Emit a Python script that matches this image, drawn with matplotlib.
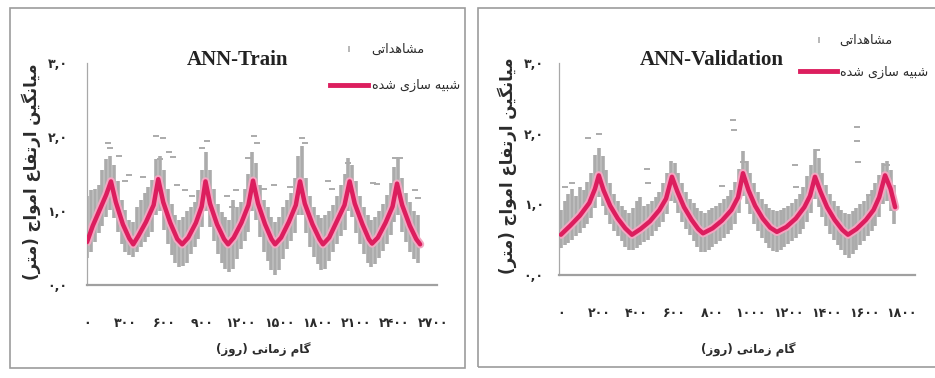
import numpy as np
import matplotlib
matplotlib.use("Agg")
from matplotlib import pyplot as plt
from matplotlib.patches import Rectangle
from matplotlib.lines import Line2D

# ---- data ----
train_line_day = [0, 45, 100, 150, 187, 225, 280, 330, 361, 400, 460, 520, 556, 595, 650, 705, 743, 790,
                  850, 895, 925, 960, 1015, 1070, 1101, 1145, 1205, 1260, 1296, 1335, 1390, 1440, 1468,
                  1515, 1575, 1630, 1663, 1700, 1760, 1815, 1842, 1890, 1950, 2010, 2050, 2090, 2150,
                  2200, 2225, 2270, 2330, 2385, 2420, 2460, 2520, 2570, 2600]
train_line_val = [0.58, 0.80, 1.02, 1.22, 1.40, 1.12, 0.82, 0.63, 0.55, 0.66, 0.85, 1.08, 1.43, 1.12, 0.84,
                  0.62, 0.55, 0.64, 0.84, 1.06, 1.40, 1.10, 0.82, 0.62, 0.55, 0.64, 0.84, 1.08, 1.41, 1.10,
                  0.82, 0.62, 0.55, 0.64, 0.85, 1.08, 1.40, 1.10, 0.82, 0.62, 0.55, 0.64, 0.86, 1.08, 1.40,
                  1.10, 0.82, 0.62, 0.56, 0.64, 0.84, 1.06, 1.37, 1.08, 0.80, 0.62, 0.55]

# observed spread (min / max) every 30 days
train_obs_day = np.arange(0, 2581, 30)
train_obs_low = [0.36, 0.45, 0.58, 0.70, 0.80, 0.92, 1.02, 0.90, 0.72, 0.55,
                 0.45, 0.40, 0.38, 0.45, 0.52, 0.58, 0.65, 0.72, 0.95, 1.00,
                 0.75, 0.55, 0.40, 0.30, 0.25, 0.26, 0.30, 0.42, 0.52, 0.62,
                 0.78, 1.00, 0.78, 0.60, 0.42, 0.30, 0.22, 0.17, 0.22, 0.35,
                 0.48, 0.60, 0.72, 1.00, 0.88, 0.65, 0.45, 0.32, 0.20, 0.14,
                 0.20, 0.35, 0.48, 0.60, 0.70, 0.95, 0.95, 0.70, 0.52, 0.38,
                 0.28, 0.20, 0.22, 0.32, 0.45, 0.55, 0.66, 0.75, 1.00, 0.92,
                 0.70, 0.55, 0.42, 0.30, 0.24, 0.28, 0.36, 0.46, 0.56, 0.68,
                 0.85, 0.95, 0.72, 0.58, 0.45, 0.35, 0.30]
train_obs_high = [1.20, 1.28, 1.30, 1.35, 1.55, 1.70, 1.75, 1.62, 1.40, 1.15,
                  1.02, 0.88, 0.85, 1.05, 1.15, 1.25, 1.32, 1.42, 1.70, 1.75,
                  1.55, 1.30, 1.10, 0.95, 0.88, 0.92, 1.00, 1.05, 1.12, 1.28,
                  1.55, 1.80, 1.55, 1.30, 1.10, 0.98, 0.92, 0.88, 1.15, 1.05,
                  1.12, 1.30, 1.50, 1.80, 1.65, 1.35, 1.15, 1.05, 0.92, 0.85,
                  0.92, 1.05, 1.15, 1.25, 1.45, 1.75, 1.88, 1.45, 1.20, 1.05,
                  0.95, 0.90, 0.95, 1.00, 1.08, 1.20, 1.35, 1.50, 1.72, 1.62,
                  1.40, 1.20, 1.05, 0.95, 0.88, 0.92, 1.00, 1.10, 1.22, 1.38,
                  1.60, 1.70, 1.45, 1.25, 1.12, 1.00, 0.95]
train_out_day = [180, 165, 250, 300, 330, 440, 540, 568, 594, 640, 672, 700, 765, 820, 900, 940, 1090, 1130,
                 1160, 1260, 1300, 1325, 1380, 1460, 1585, 1678, 1700, 1883, 1910, 2040, 2230, 2260, 2405,
                 2440, 2560, 2580]
train_out_val = [1.85, 1.92, 1.75, 1.40, 1.48, 1.46, 2.02, 1.70, 1.98, 1.80, 1.73, 1.35, 1.28, 1.20, 1.85,
                 1.95, 1.20, 1.05, 1.28, 1.72, 2.02, 1.92, 1.30, 1.35, 1.33, 1.98, 1.92, 1.41, 1.30, 1.65,
                 1.38, 1.37, 1.72, 1.72, 1.28, 1.18]

val_line_day = [0, 50, 100, 150, 180, 200, 225, 260, 300, 340, 375, 420, 470, 520, 555, 586, 615, 650, 690,
                725, 750, 800, 850, 900, 935, 961, 990, 1025, 1065, 1105, 1140, 1190, 1240, 1285, 1315,
                1341, 1370, 1405, 1445, 1485, 1515, 1560, 1610, 1650, 1680, 1711, 1740, 1764]
val_line_val = [0.57, 0.70, 0.84, 1.02, 1.22, 1.41, 1.20, 0.98, 0.80, 0.66, 0.57, 0.65, 0.76, 0.92, 1.08,
                1.39, 1.18, 0.96, 0.78, 0.65, 0.59, 0.66, 0.77, 0.92, 1.10, 1.44, 1.20, 0.98, 0.80, 0.67,
                0.61, 0.68, 0.80, 0.96, 1.12, 1.39, 1.18, 0.96, 0.78, 0.64, 0.57, 0.65, 0.78, 0.92, 1.10,
                1.41, 1.22, 0.96]

# observed spread (min / max) every 20 days
val_obs_day = np.arange(0, 1761, 20)
val_obs_low = [0.38, 0.42, 0.45, 0.50, 0.55, 0.60, 0.66, 0.72, 0.80, 0.95,
               1.10, 0.98, 0.85, 0.72, 0.62, 0.55, 0.48, 0.40, 0.36, 0.35,
               0.38, 0.42, 0.46, 0.50, 0.55, 0.62, 0.68, 0.75, 0.86, 1.05,
               1.02, 0.88, 0.75, 0.65, 0.56, 0.48, 0.40, 0.33, 0.32, 0.35,
               0.40, 0.44, 0.48, 0.52, 0.58, 0.64, 0.72, 0.88, 1.12, 1.00,
               0.86, 0.72, 0.62, 0.52, 0.45, 0.38, 0.34, 0.32, 0.35, 0.40,
               0.44, 0.48, 0.52, 0.58, 0.65, 0.75, 0.88, 1.08, 0.96, 0.82,
               0.70, 0.58, 0.50, 0.42, 0.35, 0.28, 0.24, 0.30, 0.36, 0.42,
               0.48, 0.55, 0.62, 0.70, 0.82, 1.00, 1.05, 0.90, 0.72]
val_obs_high = [0.92, 1.05, 1.15, 1.22, 1.12, 1.25, 1.20, 1.32, 1.45, 1.70,
                1.80, 1.68, 1.48, 1.30, 1.15, 1.05, 0.98, 0.92, 0.88, 0.95,
                1.05, 1.10, 0.98, 1.00, 1.05, 1.10, 1.18, 1.30, 1.45, 1.62,
                1.58, 1.45, 1.30, 1.18, 1.08, 1.02, 0.95, 0.90, 0.88, 0.92,
                0.95, 0.98, 1.02, 1.08, 1.12, 1.20, 1.32, 1.50, 1.75, 1.62,
                1.45, 1.30, 1.18, 1.08, 1.00, 0.95, 0.92, 0.90, 0.92, 0.95,
                0.98, 1.02, 1.08, 1.15, 1.25, 1.40, 1.55, 1.78, 1.65, 1.45,
                1.28, 1.15, 1.05, 0.98, 0.92, 0.88, 0.86, 0.90, 0.95, 1.00,
                1.05, 1.12, 1.20, 1.30, 1.42, 1.58, 1.62, 1.48, 1.28]
val_out_day = [21, 60, 143, 199, 454, 460, 850, 909, 912, 960, 1235, 1240, 1352, 1563, 1565, 1568, 1624, 1720]
val_out_val = [1.25, 1.30, 1.94, 2.00, 1.50, 1.30, 1.26, 2.19, 2.05, 1.60, 1.56, 1.25, 1.77, 2.10, 1.90,
               1.60, 1.13, 1.55]

train_xticks = [0, 300, 600, 900, 1200, 1500, 1800, 2100, 2400, 2700]
train_xtick_labels = ['۰', '۳۰۰', '۶۰۰', '۹۰۰', '۱۲۰۰', '۱۵۰۰', '۱۸۰۰', '۲۱۰۰', '۲۴۰۰', '۲۷۰۰']
val_xticks = [0, 200, 400, 600, 800, 1000, 1200, 1400, 1600, 1800]
val_xtick_labels = ['۰', '۲۰۰', '۴۰۰', '۶۰۰', '۸۰۰', '۱۰۰۰', '۱۲۰۰', '۱۴۰۰', '۱۶۰۰', '۱۸۰۰']
yticks = [0, 1, 2, 3]
ytick_labels = ['۰,۰', '۱,۰', '۲,۰', '۳,۰']

obs_label = 'مشاهداتی'
sim_label = 'شبیه سازی شده'
x_title = 'گام زمانی (روز)'
y_title = 'میانگین ارتفاع امواج (متر)'

OBS_GRAY = '#ababab'
SIM_RED = '#dc1e5e'
SIM_HALO = '#f3a7c2'
TEXT = '#2b2b2b'

# ---- minimal persian shaping (matplotlib has no text shaping) ----
FORMS = {
    'ا': ('\uFE8D', '\uFE8E', None, None),
    'ب': ('\uFE8F', '\uFE90', '\uFE91', '\uFE92'),
    'ت': ('\uFE95', '\uFE96', '\uFE97', '\uFE98'),
    'ج': ('\uFE9D', '\uFE9E', '\uFE9F', '\uFEA0'),
    'د': ('\uFEA9', '\uFEAA', None, None),
    'ر': ('\uFEAD', '\uFEAE', None, None),
    'ز': ('\uFEAF', '\uFEB0', None, None),
    'س': ('\uFEB1', '\uFEB2', '\uFEB3', '\uFEB4'),
    'ش': ('\uFEB5', '\uFEB6', '\uFEB7', '\uFEB8'),
    'ع': ('\uFEC9', '\uFECA', '\uFECB', '\uFECC'),
    'ف': ('\uFED1', '\uFED2', '\uFED3', '\uFED4'),
    'گ': ('\uFB92', '\uFB93', '\uFB94', '\uFB95'),
    'م': ('\uFEE1', '\uFEE2', '\uFEE3', '\uFEE4'),
    'ن': ('\uFEE5', '\uFEE6', '\uFEE7', '\uFEE8'),
    'ه': ('\uFEE9', '\uFEEA', '\uFEEB', '\uFEEC'),
    'و': ('\uFEED', '\uFEEE', None, None),
    'ی': ('\uFBFC', '\uFBFD', '\uFBFE', '\uFBFF'),
}


def fa(text):
    out = []
    for i, ch in enumerate(text):
        if ch not in FORMS:
            out.append(ch)
            continue
        prev = text[i - 1] if i > 0 else ''
        nxt = text[i + 1] if i + 1 < len(text) else ''
        join_prev = prev in FORMS and FORMS[prev][2] is not None
        join_next = nxt in FORMS and FORMS[ch][2] is not None
        iso, fin, ini, med = FORMS[ch]
        if join_prev and join_next:
            out.append(med)
        elif join_prev:
            out.append(fin)
        elif join_next:
            out.append(ini)
        else:
            out.append(iso)
    swap = {'(': ')', ')': '('}
    return ''.join(swap.get(c, c) for c in reversed(out))


plt.rcParams['font.family'] = ['DejaVu Sans']
W, H = 935, 378
fig = plt.figure(figsize=(W / 100, H / 100), dpi=100)


def fx(px):
    return px / W


def fy(py):
    return 1 - py / H


# panel frames
fig.add_artist(Rectangle((fx(10), fy(368)), fx(455), fy(8) - fy(368), transform=fig.transFigure,
                         fill=False, edgecolor='#9c9c9c', lw=1.2))
fig.add_artist(Rectangle((fx(478), fy(367)), fx(470), fy(8) - fy(367), transform=fig.transFigure,
                         fill=False, edgecolor='#9c9c9c', lw=1.2))


def panel(rect, xlim, days_line, vals_line, obs_day, obs_lo, obs_hi, out_day, out_val, xticks, xlabels,
          obs_lw, ypad):
    ax = fig.add_axes(rect)
    ax.vlines(obs_day, obs_lo, obs_hi, color=OBS_GRAY, lw=obs_lw, zorder=1)
    ax.plot(out_day, out_val, ls='none', marker='_', ms=4, mew=1.4, color=OBS_GRAY, zorder=1)
    ax.plot(days_line, vals_line, color=SIM_HALO, lw=6, solid_capstyle='round', zorder=2)
    ax.plot(days_line, vals_line, color=SIM_RED, lw=3.2, solid_capstyle='round', zorder=3)
    ax.set_xlim(*xlim)
    ax.set_ylim(0, 3.0)
    ax.set_xticks(xticks)
    ax.set_xticklabels(xlabels, fontsize=9, fontweight='bold', color=TEXT)
    ax.set_yticks(yticks)
    ax.set_yticklabels(ytick_labels, fontsize=9, fontweight='bold', color=TEXT)
    ax.tick_params(axis='x', length=0, pad=23)
    ax.tick_params(axis='y', length=0, pad=ypad)
    for s in ('top', 'right'):
        ax.spines[s].set_visible(False)
    ax.spines['left'].set_color('#a8a8a8')
    ax.spines['left'].set_linewidth(0.9)
    ax.spines['bottom'].set_color('#a0a0a0')
    ax.spines['bottom'].set_linewidth(1.6)
    ax.patch.set_alpha(0)
    return ax


ax1 = panel([fx(87), fy(285), fx(350), fy(63) - fy(285)], (0, 2732), train_line_day, train_line_val,
            train_obs_day, train_obs_low, train_obs_high, train_out_day, train_out_val,
            train_xticks, train_xtick_labels, 2.6, 14)
ax2 = panel([fx(559), fy(275), fx(356), fy(63) - fy(275)], (-10, 1869), val_line_day, val_line_val,
            val_obs_day, val_obs_low, val_obs_high, val_out_day, val_out_val,
            val_xticks, val_xtick_labels, 2.6, 11)

handles = [Line2D([], [], ls='none', marker='|', ms=5, mew=1.2, color=OBS_GRAY),
           Line2D([], [], color=SIM_RED, lw=3.5)]
labels = [fa(obs_label), fa(sim_label)]
ax1.legend(handles, labels, loc='upper left', bbox_to_anchor=(fx(330), fy(43)), bbox_transform=fig.transFigure,
           frameon=False, prop={'size': 9.2}, handlelength=3.0,
           handletextpad=0.25, labelspacing=1.8, borderpad=0, borderaxespad=0, labelcolor=TEXT)
ax2.legend(handles, labels, loc='upper left', bbox_to_anchor=(fx(800), fy(34)), bbox_transform=fig.transFigure,
           frameon=False, prop={'size': 9.2}, handlelength=2.9,
           handletextpad=0.2, labelspacing=1.45, borderpad=0, borderaxespad=0, labelcolor=TEXT)

fig.text(fx(238), fy(60), 'ANN-Train', family='Liberation Serif', fontweight='bold', fontsize=15,
         ha='center', va='center', color='#222222')
fig.text(fx(712), fy(60), 'ANN-Validation', family='Liberation Serif', fontweight='bold', fontsize=15,
         ha='center', va='center', color='#222222')

for cx in (263, 748):
    fig.text(fx(cx), fy(350), fa(x_title), fontsize=8.5, fontweight='bold', ha='center', va='center',
             color=TEXT)
fig.text(fx(31), fy(172), fa(y_title), rotation=90, fontsize=12, fontweight='bold', ha='center',
         va='center', color=TEXT)
fig.text(fx(507), fy(166), fa(y_title), rotation=90, fontsize=12, fontweight='bold', ha='center',
         va='center', color=TEXT)

fig.savefig('out.png', dpi=100)
